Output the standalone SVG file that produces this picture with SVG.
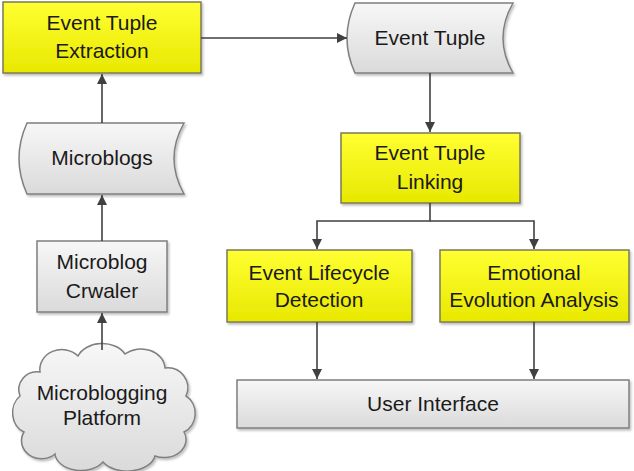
<svg xmlns="http://www.w3.org/2000/svg" width="634" height="471" viewBox="0 0 634 471">
<defs>
<linearGradient id="gy" x1="0" y1="0" x2="0" y2="1"><stop offset="0" stop-color="#FFFF33"/><stop offset="1" stop-color="#E8E800"/></linearGradient>
<linearGradient id="gg" x1="0" y1="0" x2="0" y2="1"><stop offset="0" stop-color="#F7F7F7"/><stop offset="1" stop-color="#DADADA"/></linearGradient>
<filter id="sh" x="-10%" y="-10%" width="120%" height="130%"><feDropShadow dx="1.5" dy="2" stdDeviation="1.2" flood-color="#000" flood-opacity="0.25"/></filter>
<marker id="ah" viewBox="0 0 10 10" refX="10" refY="5" markerWidth="10" markerHeight="10" markerUnits="userSpaceOnUse" orient="auto"><path d="M0,0 L10,5 L0,10 Z" fill="#404040"/></marker>
</defs>
<style>
.y{fill:url(#gy);stroke:#7A7A5A;stroke-width:1.5;filter:url(#sh)}
.g{fill:url(#gg);stroke:#7F7F7F;stroke-width:1.5;filter:url(#sh)}
text{font-family:"Liberation Sans",Arial,sans-serif;font-size:21px;fill:#1A1A1A;text-anchor:middle}
.c{fill:none;stroke:#404040;stroke-width:1.6;marker-end:url(#ah)}
</style>
<g id="extraction"><rect class="y" x="3" y="2" width="198" height="71"/><text x="102" y="30">Event Tuple</text><text x="102" y="58">Extraction</text></g>
<g id="event-tuple"><path class="g" d="M355 3 L513 3 Q493 38 513 73 L355 73 Q339 38 355 3 Z"/><text x="430" y="45">Event Tuple</text></g>
<g id="microblogs"><path class="g" d="M27 123 L184 123 Q164 158.5 184 194 L27 194 Q11 158.5 27 123 Z"/><text x="102" y="165">Microblogs</text></g>
<g id="crawler"><rect class="g" x="37" y="241" width="130" height="71"/><text x="102" y="269">Microblog</text><text x="102" y="298">Crwaler</text></g>
<g id="platform"><path class="g" d="M40 372 A22 20 0 0 1 78 356 A26 20 0 0 1 125 354 A24 20 0 0 1 165 368 A20 20 0 0 1 186 396 A18 20 0 0 1 184 432 A22 18 0 0 1 155 456 A28 18 0 0 1 103 462 A26 18 0 0 1 55 454 A20 18 0 0 1 24 432 A16 20 0 0 1 20 396 A18 18 0 0 1 40 372 Z"/><text x="102" y="400">Microblogging</text><text x="102" y="425">Platform</text></g>
<g id="linking"><rect class="y" x="341" y="133" width="179" height="70"/><text x="430" y="160">Event Tuple</text><text x="430" y="189">Linking</text></g>
<g id="lifecycle"><rect class="y" x="227" y="250" width="185" height="72"/><text x="319" y="280">Event Lifecycle</text><text x="319" y="307">Detection</text></g>
<g id="emotional"><rect class="y" x="440" y="250" width="189" height="72"/><text x="534" y="280">Emotional</text><text x="534" y="307">Evolution Analysis</text></g>
<g id="ui"><rect class="g" x="237" y="380" width="392" height="48"/><text x="433" y="411">User Interface</text></g>
<g id="connectors">
<path class="c" d="M201 38 L347 38"/>
<path class="c" d="M102 123 L102 74"/>
<path class="c" d="M102 241 L102 195"/>
<path class="c" d="M102 350 L102 313"/>
<path class="c" d="M430 73 L430 132"/>
<path class="c" d="M430 203 L430 221 L317 221 L317 249"/>
<path class="c" d="M430 221 L534 221 L534 249"/>
<path class="c" d="M317 322 L317 379"/>
<path class="c" d="M534 322 L534 379"/>
</g>
</svg>
